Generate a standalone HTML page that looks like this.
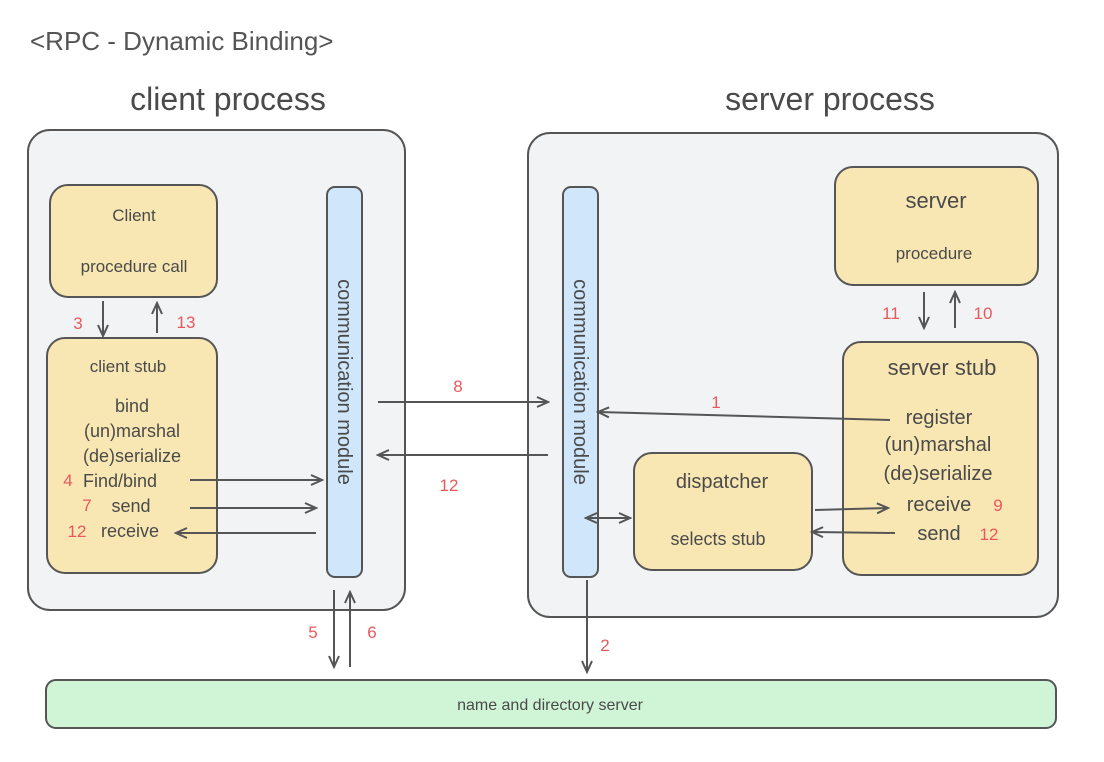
<!DOCTYPE html>
<html><head><meta charset="utf-8"><style>
html,body{margin:0;padding:0;background:#fff;}
svg{display:block;font-family:"Liberation Sans",sans-serif;}
.t{fill:#4a4a4a;text-anchor:middle;}
.r{fill:#e8595d;text-anchor:middle;font-size:17px;}
.ln{stroke:#555;stroke-width:2;fill:none;}
</style></head><body>
<svg width="1104" height="762" viewBox="0 0 1104 762" xmlns="http://www.w3.org/2000/svg">
<defs>
<marker id="a" markerWidth="14" markerHeight="12" refX="12" refY="6" orient="auto" markerUnits="userSpaceOnUse">
<path d="M1,1 L12,6 L1,11" fill="none" stroke="#555" stroke-width="2"/></marker>
<marker id="b" markerWidth="14" markerHeight="12" refX="2" refY="6" orient="auto" markerUnits="userSpaceOnUse">
<path d="M13,1 L2,6 L13,11" fill="none" stroke="#555" stroke-width="2"/></marker>
</defs>
<text x="30" y="50" font-size="26" fill="#555">&lt;RPC - Dynamic Binding&gt;</text>
<text x="228" y="110" class="t" font-size="32">client process</text>
<text x="830" y="110" class="t" font-size="32">server process</text>

<rect x="28" y="130" width="377" height="480" rx="22" fill="#f1f3f5" stroke="#555" stroke-width="2"/>
<rect x="528" y="133" width="530" height="484" rx="22" fill="#f1f3f5" stroke="#555" stroke-width="2"/>

<rect x="50" y="185" width="167" height="112" rx="18" fill="#f9e7b3" stroke="#555" stroke-width="2"/>
<text x="134" y="221" class="t" font-size="17">Client</text>
<text x="134" y="272" class="t" font-size="17">procedure call</text>

<rect x="47" y="338" width="170" height="235" rx="18" fill="#f9e7b3" stroke="#555" stroke-width="2"/>
<text x="128" y="372" class="t" font-size="17">client stub</text>
<text x="132" y="412" class="t" font-size="18">bind</text>
<text x="132" y="437" class="t" font-size="18">(un)marshal</text>
<text x="132" y="462" class="t" font-size="18">(de)serialize</text>
<text x="120" y="487" class="t" font-size="18">Find/bind</text>
<text x="131" y="512" class="t" font-size="18">send</text>
<text x="130" y="537" class="t" font-size="18">receive</text>
<text x="68" y="486" class="r">4</text>
<text x="87" y="511" class="r">7</text>
<text x="77" y="537" class="r">12</text>

<rect x="327" y="187" width="35" height="390" rx="8" fill="#cfe6fb" stroke="#555" stroke-width="2"/>
<text transform="translate(338,382) rotate(90)" class="t" font-size="20">communication module</text>
<rect x="563" y="187" width="35" height="390" rx="8" fill="#cfe6fb" stroke="#555" stroke-width="2"/>
<text transform="translate(574,382) rotate(90)" class="t" font-size="20">communication module</text>

<rect x="835" y="167" width="203" height="118" rx="18" fill="#f9e7b3" stroke="#555" stroke-width="2"/>
<text x="936" y="208" class="t" font-size="22">server</text>
<text x="934" y="259" class="t" font-size="17">procedure</text>

<rect x="843" y="342" width="195" height="233" rx="18" fill="#f9e7b3" stroke="#555" stroke-width="2"/>
<text x="942" y="375" class="t" font-size="22">server stub</text>
<text x="939" y="424" class="t" font-size="20">register</text>
<text x="938" y="451" class="t" font-size="20">(un)marshal</text>
<text x="938" y="480" class="t" font-size="20">(de)serialize</text>
<text x="939" y="511" class="t" font-size="20">receive</text>
<text x="939" y="540" class="t" font-size="20">send</text>
<text x="998" y="511" class="r">9</text>
<text x="989" y="540" class="r">12</text>

<rect x="634" y="453" width="178" height="117" rx="18" fill="#f9e7b3" stroke="#555" stroke-width="2"/>
<text x="722" y="488" class="t" font-size="20">dispatcher</text>
<text x="718" y="545" class="t" font-size="18">selects stub</text>

<rect x="46" y="680" width="1010" height="48" rx="10" fill="#cff5d6" stroke="#555" stroke-width="2"/>
<text x="550" y="710" class="t" font-size="16">name and directory server</text>

<!-- arrows -->
<line x1="103" y1="301" x2="103" y2="336" class="ln" marker-end="url(#a)"/>
<line x1="157" y1="333" x2="157" y2="303" class="ln" marker-end="url(#a)"/>
<text x="78" y="329" class="r">3</text>
<text x="186" y="328" class="r">13</text>
<line x1="190" y1="480" x2="322" y2="480" class="ln" marker-end="url(#a)"/>
<line x1="190" y1="508" x2="316" y2="508" class="ln" marker-end="url(#a)"/>
<line x1="316" y1="533" x2="176" y2="533" class="ln" marker-end="url(#a)"/>
<line x1="378" y1="402" x2="548" y2="402" class="ln" marker-end="url(#a)"/>
<text x="458" y="392" class="r">8</text>
<line x1="548" y1="455" x2="378" y2="455" class="ln" marker-end="url(#a)"/>
<text x="449" y="491" class="r">12</text>
<line x1="890" y1="420" x2="598" y2="412" class="ln" marker-end="url(#a)"/>
<text x="716" y="408" class="r">1</text>
<line x1="586" y1="518" x2="630" y2="518" class="ln" marker-start="url(#b)" marker-end="url(#a)"/>
<line x1="815" y1="510" x2="888" y2="508" class="ln" marker-end="url(#a)"/>
<line x1="895" y1="533" x2="812" y2="532" class="ln" marker-end="url(#a)"/>
<line x1="924" y1="292" x2="924" y2="328" class="ln" marker-end="url(#a)"/>
<line x1="955" y1="328" x2="955" y2="292" class="ln" marker-end="url(#a)"/>
<text x="891" y="319" class="r">11</text>
<text x="983" y="319" class="r">10</text>
<line x1="334" y1="590" x2="334" y2="667" class="ln" marker-end="url(#a)"/>
<line x1="350" y1="667" x2="350" y2="592" class="ln" marker-end="url(#a)"/>
<text x="313" y="638" class="r">5</text>
<text x="372" y="638" class="r">6</text>
<line x1="587" y1="580" x2="587" y2="672" class="ln" marker-end="url(#a)"/>
<text x="605" y="651" class="r">2</text>
</svg>
</body></html>
